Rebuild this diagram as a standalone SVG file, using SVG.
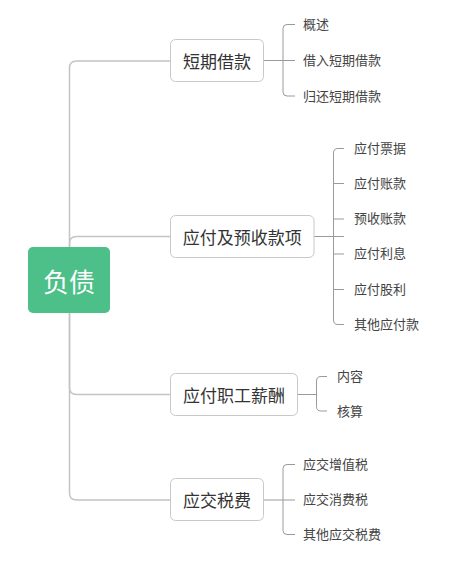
<svg xmlns="http://www.w3.org/2000/svg" width="453" height="567" viewBox="0 0 453 567">
<style>
.main{fill:none;stroke:#c4c4c4;stroke-width:1.5}
.sub{fill:none;stroke:#9a9a9a;stroke-width:1}
.box{fill:#fff;stroke:#c8c8c8;stroke-width:1}
.t1{font-family:"Microsoft YaHei","Noto Sans CJK SC",sans-serif;font-size:17px;fill:#333;dominant-baseline:central;text-anchor:middle}
.t2{font-family:"Microsoft YaHei","Noto Sans CJK SC",sans-serif;font-size:13px;fill:#444;dominant-baseline:central}
.root{font-family:"Microsoft YaHei","Noto Sans CJK SC",sans-serif;font-size:26px;fill:#fff;dominant-baseline:central;text-anchor:middle}
</style>
<rect width="453" height="567" fill="#fff"/>
<g id="connectors">
<path class="main" d="M69.5,247 V68 Q69.5,61 76.5,61 H170.5"/>
<path class="main" d="M69.5,247 V243.5 Q69.5,236.5 76.5,236.5 H170.5"/>
<path class="main" d="M69.5,313 V387.5 Q69.5,394.5 76.5,394.5 H170.5"/>
<path class="main" d="M69.5,313 V493 Q69.5,500 76.5,500 H170.5"/>
<path class="sub" d="M263.5,60.5 H295 M295,24.5 H287 Q283,24.5 283,28.5 V92 Q283,96 287,96 H295"/>
<path class="sub" d="M314,236.5 H344 M344,148.5 H338 Q333.5,148.5 333.5,153 V320 Q333.5,324.5 338,324.5 H344 M333.5,183.5 H344 M333.5,219 H344 M333.5,254 H344 M333.5,289.5 H344"/>
<path class="sub" d="M297.5,394.5 H316.5 M327,376.5 H321 Q316.5,376.5 316.5,381 V406.5 Q316.5,411 321,411 H327"/>
<path class="sub" d="M263.5,500 H295 M295,464.5 H287 Q283,464.5 283,468.5 V530.5 Q283,534.5 287,534.5 H295"/>
</g>
<g id="root">
<rect x="28" y="247" width="82" height="66" rx="5" fill="#4dbf88"/>
<text class="root" x="69" y="280">负债</text>
</g>
<g id="n1">
<rect class="box" x="170.5" y="39.5" width="93" height="42" rx="5"/>
<text class="t1" x="217" y="60">短期借款</text>
</g>
<g id="n1a"><text class="t2" x="303" y="23.5">概述</text></g>
<g id="n1b"><text class="t2" x="303" y="59.5">借入短期借款</text></g>
<g id="n1c"><text class="t2" x="303" y="95">归还短期借款</text></g>
<g id="n2">
<rect class="box" x="170.5" y="215.5" width="143.5" height="42" rx="5"/>
<text class="t1" x="242.2" y="236">应付及预收款项</text>
</g>
<g id="n2a"><text class="t2" x="354" y="147">应付票据</text></g>
<g id="n2b"><text class="t2" x="354" y="182">应付账款</text></g>
<g id="n2c"><text class="t2" x="354" y="217.5">预收账款</text></g>
<g id="n2d"><text class="t2" x="354" y="252.5">应付利息</text></g>
<g id="n2e"><text class="t2" x="354" y="288">应付股利</text></g>
<g id="n2f"><text class="t2" x="354" y="323">其他应付款</text></g>
<g id="n3">
<rect class="box" x="170.5" y="373.5" width="127" height="42" rx="5"/>
<text class="t1" x="234" y="394">应付职工薪酬</text>
</g>
<g id="n3a"><text class="t2" x="337" y="375.5">内容</text></g>
<g id="n3b"><text class="t2" x="337" y="410">核算</text></g>
<g id="n4">
<rect class="box" x="170.5" y="478.5" width="93" height="42" rx="5"/>
<text class="t1" x="217" y="499">应交税费</text>
</g>
<g id="n4a"><text class="t2" x="303" y="463">应交增值税</text></g>
<g id="n4b"><text class="t2" x="303" y="498.5">应交消费税</text></g>
<g id="n4c"><text class="t2" x="303" y="533.5">其他应交税费</text></g>
</svg>
